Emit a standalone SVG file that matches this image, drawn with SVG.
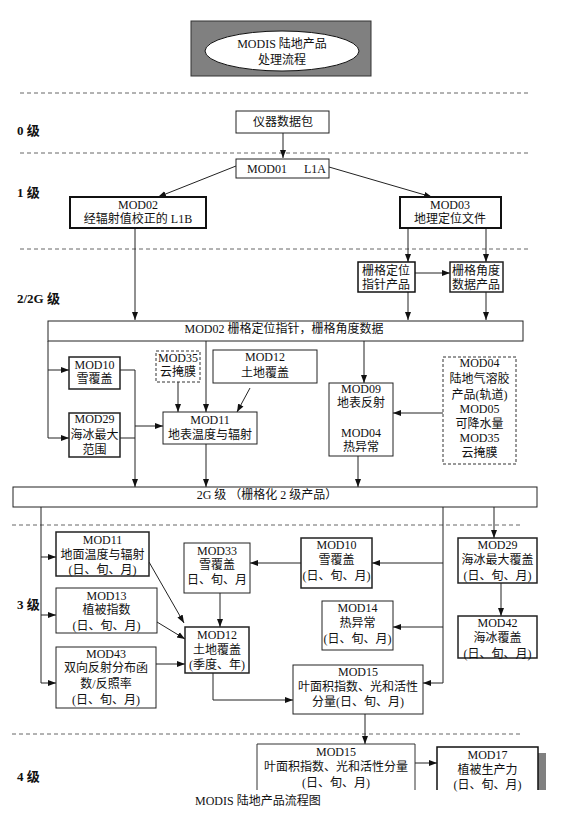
<svg xmlns="http://www.w3.org/2000/svg" width="569" height="813" viewBox="0 0 569 813">
<defs>
<marker id="a" viewBox="0 0 8 8" refX="8" refY="4" markerWidth="8" markerHeight="8" orient="auto" markerUnits="userSpaceOnUse"><path d="M0,1 L8,4 L0,7 z" fill="#111"/></marker>
<style>
text{font-family:"Liberation Serif","Noto Sans CJK SC",serif;font-size:12px;fill:#111;text-anchor:middle}
.lv{font-weight:bold;font-size:13px;text-anchor:start}
.b{fill:#fff;stroke:#222;stroke-width:1}
.t{fill:#fff;stroke:#111;stroke-width:2}
.d{fill:#fff;stroke:#333;stroke-width:1;stroke-dasharray:3 2}
.c{fill:none;stroke:#222;stroke-width:1}
.ar{marker-end:url(#a)}
.sep{stroke:#666;stroke-width:1;stroke-dasharray:4 3}
</style>
</defs>
<rect width="569" height="813" fill="#fff"/>

<g id="title">
<rect x="191" y="21" width="180" height="55" fill="#808080" stroke="#333"/>
<ellipse cx="282" cy="51" rx="77" ry="20" fill="#fff" stroke="#111"/>
<text x="282" y="48">MODIS 陆地产品</text>
<text x="282" y="64">处理流程</text>
</g>

<g id="separators">
<line class="sep" x1="20" y1="93" x2="528" y2="93"/>
<line class="sep" x1="20" y1="153" x2="528" y2="153"/>
<line class="sep" x1="20" y1="249" x2="528" y2="249"/>
<line class="sep" x1="12" y1="525" x2="523" y2="525"/>
<line class="sep" x1="12" y1="734" x2="523" y2="734"/>
</g>

<g id="levels">
<text class="lv" x="17" y="135">0 级</text>
<text class="lv" x="17" y="197">1 级</text>
<text class="lv" x="17" y="303">2/2G 级</text>
<text class="lv" x="17" y="609">3 级</text>
<text class="lv" x="17" y="781">4 级</text>
</g>

<g id="connectors">
<line class="c ar" x1="283" y1="133" x2="283" y2="158"/>
<line class="c ar" x1="236" y1="166" x2="158" y2="197"/>
<line class="c ar" x1="329" y1="167" x2="432" y2="197"/>
<line class="c ar" x1="135" y1="228" x2="135" y2="320"/>
<line class="c ar" x1="408" y1="228" x2="408" y2="262"/>
<line class="c ar" x1="486" y1="228" x2="486" y2="262"/>
<line class="c ar" x1="415" y1="273" x2="450" y2="273"/>
<line class="c ar" x1="408" y1="292" x2="408" y2="320"/>
<line class="c ar" x1="486" y1="292" x2="486" y2="320"/>
<path class="c" d="M48,341 V438"/>
<line class="c ar" x1="48" y1="370" x2="69" y2="370"/>
<line class="c ar" x1="48" y1="438" x2="69" y2="438"/>
<path class="c" d="M120,370 H135 M120,438 H135"/>
<line class="c ar" x1="135" y1="370" x2="135" y2="487"/>
<line class="c ar" x1="135" y1="426" x2="163" y2="426"/>
<line class="c ar" x1="178" y1="382" x2="178" y2="412"/>
<line class="c ar" x1="206" y1="341" x2="206" y2="412"/>
<line class="c ar" x1="250" y1="388" x2="237" y2="412"/>
<line class="c ar" x1="206" y1="444" x2="206" y2="487"/>
<line class="c ar" x1="364" y1="341" x2="364" y2="383"/>
<line class="c ar" x1="443" y1="413" x2="393" y2="413"/>
<line class="c ar" x1="358" y1="456" x2="358" y2="487"/>
<path class="c" d="M41,507 V683"/>
<line class="c ar" x1="41" y1="557" x2="56" y2="557"/>
<line class="c ar" x1="41" y1="615" x2="56" y2="615"/>
<line class="c ar" x1="41" y1="683" x2="56" y2="683"/>
<path class="c" d="M443,507 V683"/>
<line class="c ar" x1="443" y1="563" x2="372" y2="563"/>
<line class="c ar" x1="443" y1="627" x2="393" y2="627"/>
<line class="c ar" x1="443" y1="683" x2="423" y2="683"/>
<line class="c ar" x1="494" y1="507" x2="494" y2="538"/>
<line class="c ar" x1="501" y1="583" x2="501" y2="616"/>
<line class="c ar" x1="301" y1="563" x2="250" y2="563"/>
<line class="c ar" x1="220" y1="593" x2="220" y2="627"/>
<line class="c ar" x1="149" y1="562" x2="184" y2="623"/>
<line class="c ar" x1="157" y1="622" x2="185" y2="639"/>
<line class="c ar" x1="156" y1="664" x2="185" y2="664"/>
<path class="c ar" d="M213,673 V700 H293"/>
<line class="c ar" x1="365" y1="714" x2="365" y2="744"/>
<line class="c ar" x1="415" y1="763" x2="437" y2="763"/>
</g>

<g id="n-instr"><rect class="b" x="236" y="111" width="93" height="22"/><text x="283" y="126">仪器数据包</text></g>
<g id="n-mod01"><rect class="b" x="236" y="159" width="93" height="19"/><text x="247" y="173" style="text-anchor:start">MOD01</text><text x="304" y="173" style="text-anchor:start">L1A</text></g>
<g id="n-mod02"><rect class="t" x="70" y="197" width="136" height="31"/><text x="138" y="209">MOD02</text><text x="138" y="223">经辐射值校正的  L1B</text></g>
<g id="n-mod03"><rect class="t" x="400" y="197" width="101" height="31"/><text x="450" y="209">MOD03</text><text x="450" y="223">地理定位文件</text></g>
<g id="n-gridptr"><rect class="t" x="358" y="262" width="57" height="30" style="stroke-width:1.5"/><text x="386" y="275">栅格定位</text><text x="386" y="289">指针产品</text></g>
<g id="n-gridang"><rect class="b" x="450" y="262" width="53" height="30" style="stroke-width:1.5"/><text x="476" y="275">栅格角度</text><text x="476" y="289">数据产品</text></g>
<g id="n-bar02"><rect class="b" x="48" y="321" width="475" height="20"/><text x="284" y="333">MOD02   栅格定位指针，栅格角度数据</text></g>
<g id="n-mod10a"><rect class="b" x="69" y="357" width="51" height="32" style="stroke-width:1.5"/><text x="94.5" y="369">MOD10</text><text x="94.5" y="383">雪覆盖</text></g>
<g id="n-mod29a"><rect class="b" x="69" y="413" width="51" height="44" style="stroke-width:1.5"/><text x="94.5" y="423">MOD29</text><text x="94.5" y="439">海冰最大</text><text x="94.5" y="454">范围</text></g>
<g id="n-mod35"><rect class="d" x="156" y="351" width="44" height="31"/><text x="178" y="362">MOD35</text><text x="178" y="376">云掩膜</text></g>
<g id="n-mod12a"><rect class="b" x="213" y="350" width="104" height="33"/><text x="265" y="361">MOD12</text><text x="265" y="377">土地覆盖</text></g>
<g id="n-mod11a"><rect class="b" x="163" y="412" width="94" height="32"/><text x="210" y="424">MOD11</text><text x="210" y="439">地表温度与辐射</text></g>
<g id="n-mod09"><rect class="b" x="329" y="383" width="64" height="73"/><text x="361" y="393">MOD09</text><text x="361" y="407">地表反射</text><text x="361" y="437">MOD04</text><text x="361" y="451">热异常</text></g>
<g id="n-mod04"><rect class="d" x="443" y="357" width="73" height="107"/><text x="479.5" y="367">MOD04</text><text x="479.5" y="383">陆地气溶胶</text><text x="479.5" y="399">产品(轨道)</text><text x="479.5" y="413">MOD05</text><text x="479.5" y="428">可降水量</text><text x="479.5" y="442">MOD35</text><text x="479.5" y="457">云掩膜</text></g>
<g id="n-bar2g"><rect class="b" x="13" y="487" width="524" height="20"/><text x="267" y="499">2G 级 （栅格化 2 级产品）</text></g>
<g id="n-mod11b"><rect class="b" x="56" y="532" width="93" height="44" style="stroke-width:1.5"/><text x="102.5" y="544">MOD11</text><text x="102.5" y="559">地面温度与辐射</text><text x="102.5" y="574">(日、旬、月)</text></g>
<g id="n-mod13"><rect class="b" x="56" y="588" width="101" height="45"/><text x="106.5" y="600">MOD13</text><text x="106.5" y="614">植被指数</text><text x="106.5" y="630">(日、旬、月)</text></g>
<g id="n-mod43"><rect class="b" x="56" y="647" width="100" height="61"/><text x="106" y="658">MOD43</text><text x="106" y="672">双向反射分布函</text><text x="106" y="688">数/反照率</text><text x="106" y="704">(日、旬、月)</text></g>
<g id="n-mod33"><rect class="b" x="184" y="543" width="66" height="50"/><text x="217" y="555">MOD33</text><text x="217" y="569">雪覆盖</text><text x="217" y="584">日、旬、月</text></g>
<g id="n-mod12b"><rect class="b" x="185" y="627" width="64" height="46" style="stroke-width:1.5"/><text x="217" y="639">MOD12</text><text x="217" y="654">土地覆盖</text><text x="217" y="669">(季度、年)</text></g>
<g id="n-mod10b"><rect class="b" x="301" y="538" width="71" height="50" style="stroke-width:1.5"/><text x="336.5" y="549">MOD10</text><text x="336.5" y="564">雪覆盖</text><text x="336.5" y="580">(日、旬、月)</text></g>
<g id="n-mod14"><rect class="b" x="322" y="601" width="71" height="49"/><text x="357.5" y="612">MOD14</text><text x="357.5" y="627">热异常</text><text x="357.5" y="643">(日、旬、月)</text></g>
<g id="n-mod15b"><rect class="b" x="293" y="665" width="130" height="49"/><text x="358" y="676">MOD15</text><text x="358" y="691">叶面积指数、光和活性</text><text x="358" y="706">分量(日、旬、月)</text></g>
<g id="n-mod29b"><rect class="b" x="458" y="538" width="79" height="45" style="stroke-width:1.5"/><text x="497.5" y="549">MOD29</text><text x="497.5" y="564">海冰最大覆盖</text><text x="497.5" y="580">(日、旬、月)</text></g>
<g id="n-mod42"><rect class="b" x="458" y="616" width="79" height="42" style="stroke-width:1.5"/><text x="497.5" y="627">MOD42</text><text x="497.5" y="642">海冰覆盖</text><text x="497.5" y="658">(日、旬、月)</text></g>
<g id="n-mod15c"><path d="M257,790 V744 H415 V790" fill="#fff" stroke="#333"/><text x="336" y="756">MOD15</text><text x="336" y="771">叶面积指数、光和活性分量</text><text x="336" y="787">(日、旬、月)</text></g>
<g id="n-mod17"><rect x="538" y="753" width="8" height="37" fill="#808080"/><path d="M437,790 V747 H538 V790" fill="#fff" stroke="#111" stroke-width="1.5"/><text x="487.5" y="759">MOD17</text><text x="487.5" y="774">植被生产力</text><text x="487.5" y="789">(日、旬、月)</text></g>

<text x="195" y="805" style="text-anchor:start">MODIS 陆地产品流程图</text>
</svg>
